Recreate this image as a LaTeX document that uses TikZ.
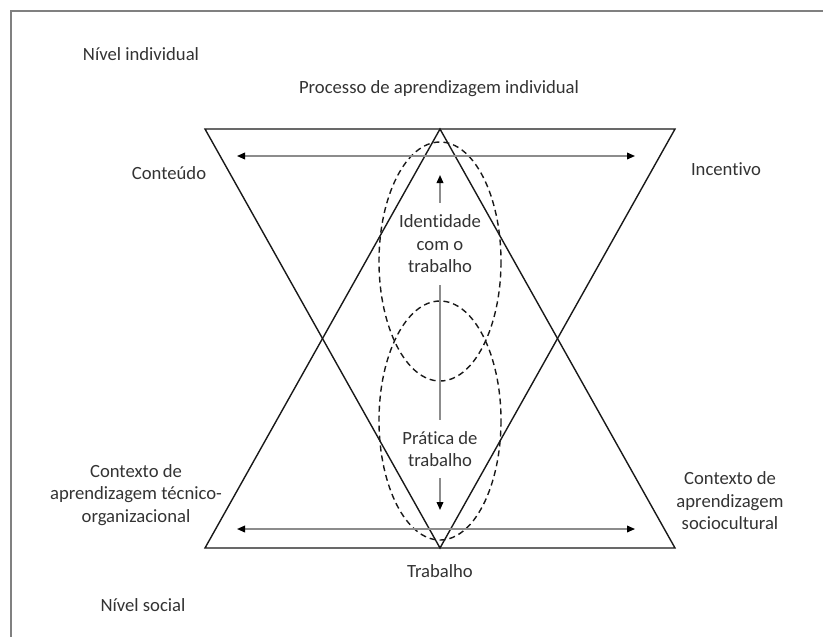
\documentclass[tikz,border=0pt]{standalone}
\usepackage{fontspec}
\setmainfont{Carlito}[Ligatures=NoCommon]
\usetikzlibrary{arrows.meta}
\begin{document}
% one unit = one pixel of the 823 x 636 canvas, y pointing down
\begin{tikzpicture}[x=0.75pt,y=-0.75pt,
  lbl/.style={inner sep=0pt, text=black!80, align=center,
    font=\fontsize{14}{16.9}\selectfont},
  tri/.style={draw=black!90, line width=1.05pt, line join=miter},
  harrow/.style={draw=black!45, line width=1.1pt,
    {Triangle[length=6pt,width=5pt,color=black]}-{Triangle[length=6pt,width=5pt,color=black]}},
  vline/.style={draw=black!45, line width=1.1pt},
  vtip/.style={vline, -{Triangle[length=6pt,width=5pt,color=black]}},
  dashell/.style={draw=black!90, line width=1.05pt, dash pattern=on 4.5pt off 3pt},
  frame/.style={draw=black!50, line width=1.6pt}]
\useasboundingbox (0,0) rectangle (823,636);

% outer frame (top and left edges)
\draw[frame] (11,640) -- (11,11) -- (830,11);

% corners of the two triangles
\coordinate (TL) at (205,129);
\coordinate (TR) at (675,129);
\coordinate (BL) at (205,548);
\coordinate (BR) at (675,548);
\coordinate (TA) at (440,129);
\coordinate (BA) at (440,548);

% dashed ellipses behind the centre labels
\draw[dashell] (440,261.5) ellipse [x radius=61, y radius=119.5];
\draw[dashell] (440,420.5) ellipse [x radius=61, y radius=119.5];

% inverted and upright triangles
\draw[tri] (TL) -- (TR) -- (BA) -- cycle;
\draw[tri] (BL) -- (BR) -- (TA) -- cycle;

% horizontal double arrows
\coordinate (h1l) at (237,156);
\coordinate (h1r) at (635,156);
\coordinate (h2l) at (237,529);
\coordinate (h2r) at (635,529);
\draw[harrow] (h1l) -- (h1r);
\draw[harrow] (h2l) -- (h2r);

% labels
\node[lbl] (nind) at (141,54) {Nível individual};
\node[lbl] (proc) at (439,89) {Processo de aprendizagem individual};
\node[lbl] (cont) at (169,173) {Conteúdo};
\node[lbl] (ince) at (726,169) {Incentivo};
\node[lbl] (ctec) at (136,495) {Contexto de\\aprendizagem técnico-\\organizacional};
\node[lbl] (csoc) at (730,501) {Contexto de\\aprendizagem\\sociocultural};
\node[lbl] (trab) at (440,571) {Trabalho};
\node[lbl] (nsoc) at (143,605) {Nível social};

% centre labels on the vertical axis
\node[lbl, minimum height=82*0.75pt] (ident) at (440,244) {Identidade\\com o\\trabalho};
\node[lbl, minimum height=58*0.75pt] (prat) at (440,449) {Prática de\\trabalho};

% vertical axis with arrow tips at both ends
\coordinate (vtop) at (440,175);
\coordinate (vbot) at (440,510);
\draw[vtip] (ident.north) -- (vtop);
\draw[vline] (ident.south) -- (prat.north);
\draw[vtip] (prat.south) -- (vbot);
\end{tikzpicture}
\end{document}
